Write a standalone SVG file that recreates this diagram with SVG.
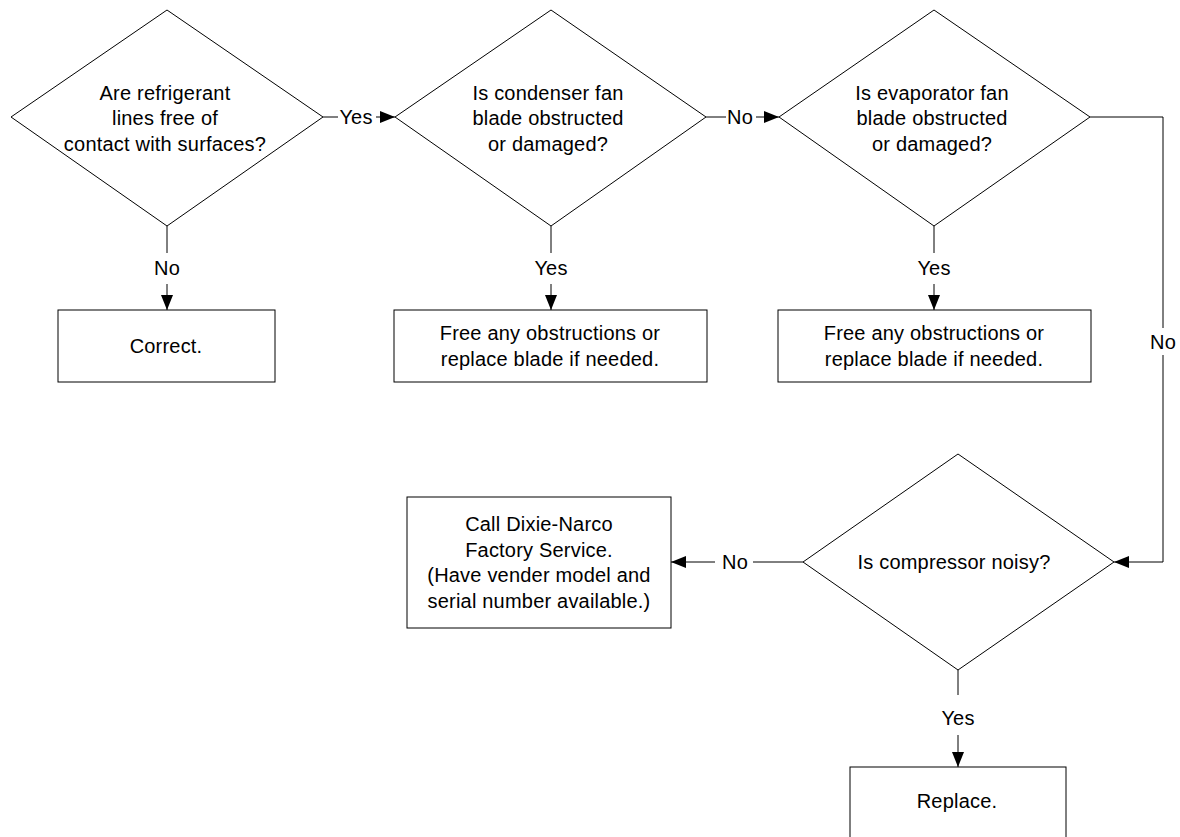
<svg xmlns="http://www.w3.org/2000/svg" width="1180" height="837" viewBox="0 0 1180 837">
<style>
.shape{fill:#fff;stroke:#000;stroke-width:1}
.conn{fill:none;stroke:#000;stroke-width:1}
text{font-family:"Liberation Sans",Arial,sans-serif;font-size:20px;letter-spacing:0.2px;fill:#000;text-anchor:middle}
</style>
<defs>
<marker id="arr" markerUnits="userSpaceOnUse" markerWidth="15" markerHeight="12" refX="15" refY="6" orient="auto">
<path d="M0,0 L15,6 L0,12 z" fill="#000"/>
</marker>
</defs>
<rect width="1180" height="837" fill="#fff"/>
<g id="connectors">
<line class="conn" x1="323" y1="117" x2="338" y2="117"/>
<line class="conn" x1="376" y1="117" x2="395" y2="117" marker-end="url(#arr)"/>
<text x="356" y="124">Yes</text>
<line class="conn" x1="706" y1="117" x2="726" y2="117"/>
<line class="conn" x1="756" y1="117" x2="779" y2="117" marker-end="url(#arr)"/>
<text x="740" y="124">No</text>
<line class="conn" x1="167" y1="226" x2="167" y2="253"/>
<line class="conn" x1="167" y1="284" x2="167" y2="310" marker-end="url(#arr)"/>
<text x="167" y="275">No</text>
<line class="conn" x1="551" y1="226" x2="551" y2="253"/>
<line class="conn" x1="551" y1="284" x2="551" y2="310" marker-end="url(#arr)"/>
<text x="551" y="275">Yes</text>
<line class="conn" x1="934" y1="226" x2="934" y2="253"/>
<line class="conn" x1="934" y1="284" x2="934" y2="310" marker-end="url(#arr)"/>
<text x="934" y="275">Yes</text>
<polyline class="conn" points="1090,117 1163,117 1163,328"/>
<polyline class="conn" points="1163,355 1163,562 1114,562" marker-end="url(#arr)"/>
<text x="1163" y="349">No</text>
<line class="conn" x1="803" y1="562" x2="753" y2="562"/>
<line class="conn" x1="715" y1="562" x2="671" y2="562" marker-end="url(#arr)"/>
<text x="735" y="569">No</text>
<line class="conn" x1="958" y1="670" x2="958" y2="695"/>
<line class="conn" x1="958" y1="735" x2="958" y2="767" marker-end="url(#arr)"/>
<text x="958" y="725">Yes</text>
</g>
<g id="q-refrigerant">
<polygon class="shape" points="167,10 323,117 167,226 11,117"/>
<text x="165" y="99.5">Are refrigerant</text>
<text x="165" y="125">lines free of</text>
<text x="165" y="150.5">contact with surfaces?</text>
</g>
<g id="q-condenser">
<polygon class="shape" points="551,10 706,117 551,226 395,117"/>
<text x="548" y="99.5">Is condenser fan</text>
<text x="548" y="125">blade obstructed</text>
<text x="548" y="150.5">or damaged?</text>
</g>
<g id="q-evaporator">
<polygon class="shape" points="934,10 1090,117 934,226 779,117"/>
<text x="932" y="99.5">Is evaporator fan</text>
<text x="932" y="125">blade obstructed</text>
<text x="932" y="150.5">or damaged?</text>
</g>
<g id="q-compressor">
<polygon class="shape" points="958,454 1114,562 958,670 803,562"/>
<text x="954" y="569">Is compressor noisy?</text>
</g>
<g id="a-correct">
<rect class="shape" x="58" y="310" width="217" height="72"/>
<text x="166" y="353">Correct.</text>
</g>
<g id="a-free-condenser">
<rect class="shape" x="394" y="310" width="313" height="72"/>
<text x="550" y="340">Free any obstructions or</text>
<text x="550" y="365.5">replace blade if needed.</text>
</g>
<g id="a-free-evaporator">
<rect class="shape" x="778" y="310" width="313" height="72"/>
<text x="934" y="340">Free any obstructions or</text>
<text x="934" y="365.5">replace blade if needed.</text>
</g>
<g id="a-call">
<rect class="shape" x="407" y="497" width="264" height="131"/>
<text x="539" y="531">Call Dixie-Narco</text>
<text x="539" y="556.5">Factory Service.</text>
<text x="539" y="582">(Have vender model and</text>
<text x="539" y="607.5">serial number available.)</text>
</g>
<g id="a-replace">
<rect class="shape" x="850" y="767" width="216" height="90"/>
<text x="957" y="808">Replace.</text>
</g>
</svg>
